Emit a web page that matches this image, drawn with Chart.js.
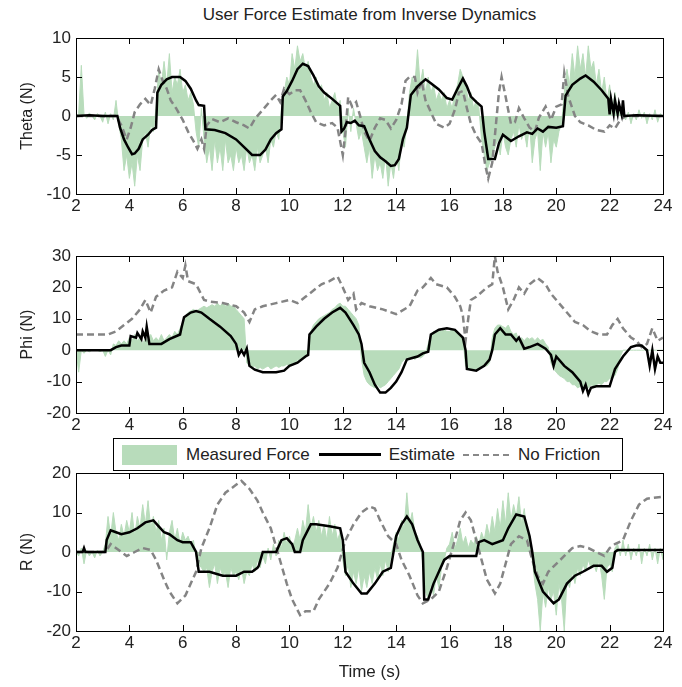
<!DOCTYPE html>
<html>
<head>
<meta charset="utf-8">
<script src="https://cdn.jsdelivr.net/npm/chart.js@4.4.1/dist/chart.umd.min.js"></script>
<style>
  body { margin: 0; background: #fff; width: 682px; height: 687px; position: relative; overflow: hidden; }
  canvas { position: absolute; left: 0; }
  #title { position: absolute; left: 76px; width: 587px; top: 5px; text-align: center;
           font: 17px 'Liberation Sans Narrow', 'Arial Narrow', 'Liberation Sans', sans-serif; color: #222; }
  #legend { position: absolute; left: 113px; top: 438px; width: 508px; height: 31px; border: 1px solid #000;
            background: #fff; z-index: 5; font: 17px 'Liberation Sans Narrow', 'Arial Narrow', 'Liberation Sans', sans-serif;
            color: #222; display: flex; align-items: center; }
  .sw { display: inline-block; }
</style>
</head>
<body>
<div id="title">User Force Estimate from Inverse Dynamics</div>
<canvas id="c1" width="682" height="220" style="top:0"></canvas>
<canvas id="c2" width="682" height="220" style="top:220px"></canvas>
<canvas id="c3" width="682" height="247" style="top:440px"></canvas>
<div id="legend">
  <span class="sw" style="margin-left:8px;width:55px;height:20px;background:#b8dcbb"></span>
  <span style="margin-left:9px">Measured Force</span>
  <span class="sw" style="margin-left:9px;width:62px;border-top:3px solid #000"></span>
  <span style="margin-left:8px">Estimate</span>
  <span class="sw" style="margin-left:8px;width:46px;border-top:2px dashed #888"></span>
  <span style="margin-left:9px">No Friction</span>
</div>
<script>
// x ticks (s)
const xTicks = [2, 4, 6, 8, 10, 12, 14, 16, 18, 20, 22, 24];

// measured force, sampled every 0.1 s from 2.0 to 24.0
const thetaMeas = [
  0, 0.3, 6.5, 0.2, -0.3, 0.4, 0, -0.5, 0.3, 0,
  -0.8, 0.5, -1, 0.3, -0.5, 2, -1, -3, -7, -5,
  -8, -6, -9, -5, -7, -3, -2, -4, -1, -2,
  1, 6, 4, 7, 4, 8, 3, 5, 4, 6,
  3, 4, 2, 3, 1.5, -2, -4, 1, -3, -6,
  -4, -7, -3, -6, -4, -7, -3, -6, -5, -7,
  -4, -6, -5, -7, -4, -6, -5, -7, -4, -6,
  -5, -4, -6, -3, -4, -2, -3, 1, 3, 5,
  4, 8, 6, 9, 7, 8, 6, 7, 5, 4,
  5, 3, 4, 2, 3, 1, 2, 3, 1, 2,
  -2, -4, 1, -2, 1, -1, -3, -2, -4, -6,
  -4, -8, -5, -7, -6, -8, -5, -9, -6, -8,
  -5, -7, -3, -4, -1, 3, 5, 4, 8.5, 4,
  6, 3, 5, 3, 4, 2, 3, 2, 3, 1,
  2, 1, 3, 4, 6, 5, 4, 2, 3, 1,
  2, 1, -3, -5, -7, -6, -5, -4, -3, -5,
  -2, -4, -5, -3, -2, -4, -1, -3, -2, -4,
  -1, -6, -3, -2, -7, -2, -4, -2, -6, -3,
  -4, -2, -1, 3, 6, 4, 8, 5, 9, 6,
  8, 5, 9, 6, 7, 4, 6, 3, 5, 2,
  4, 1, 3, 0.5, 1, 0, -0.5, 0.5, -1, 0.3,
  -0.5, 0.8, -0.3, 0.5, -1, 0.3, -0.5, 0.8, -0.8, 0.3, 0
];
const phiMeas = [
  0, -7, 0, -1, 0, -0.5, 0, 0, 0, -0.5,
  0, -2, 0, -1.5, 2, 1.5, 3, 2, 3, 2,
  4, 3, 5, 3, 4, 2, 4, 3, 5, 3,
  4, 3, 5, 3, 4, 5, 4, 6, 5, 7,
  9, 11, 12, 12.5, 13, 12.5, 13, 13.5, 14, 13.5,
  14, 14.5, 14, 15, 14, 15, 14, 15, 14, 14,
  13, 12, 11, 10, -4, -5, -5.5, -5, -6, -5.5,
  -6, -5.5, -5, -6, -5.5, -5, -5.5, -5, -5, -4.5,
  -5, -4, -4.5, -3, -3.5, -2.5, -2, 0, 6, 8,
  9, 10, 10.5, 11, 11.5, 12, 13, 13.5, 14.5, 15,
  14, 14, 13, 12, 11, 10, 8, -3, -8, -10,
  -11, -11.5, -12, -11, -12, -11.5, -11, -10, -9, -8,
  -7, -6, -4, -3, -2.5, -3, -2, -3, -2, -2.5,
  -2, -1, 2, 5, 6, 6, 6.5, 6, 6.5, 6,
  6, 6.5, 6, 5.5, 5, 4, -5, -6, -6, -6,
  -6, -5.5, -5.5, -5, -5, -4, 4, 7, 8, 8,
  7.5, 7, 8, 6, 5, 5.5, 3, 4, 3, 4,
  3.5, 4, 3, 4, 3, 3.5, 2, 1, -4, -6,
  -7, -8, -8.5, -9, -10, -10, -11, -11, -12, -11.5,
  -12, -11.5, -12, -11, -11.5, -11, -10.5, -11, -10, -10,
  -9, -9, -8, -6, -2, 0, 0, 0, 0, 0,
  0, 0, 0, 0, 0, 0, 0, 0, 0, 0, 0
];
const rMeas = [
  0, -1, 1, -3, 0.5, -1, 0, -1.5, 0.5, -1,
  0, 2, 9, 4, 10, 5, 3, 7, 4, 8,
  5, 10, 4, 9, 6, 12, 7, 13, 6, 9,
  5, 8, 3, 6, -2, 5, 8, 3, 6, 2,
  5, 3, 4, 2, 3, -1, -3, -4, -5, -4,
  -9, -5, -3, -8, -4, -6, -5, -9, -4, -6,
  -5, -7, -4, -8, -5, -6, -3, -5, -2, -4,
  -1, -3, 1, -2, 2, -1, 3, 1, 5, 2,
  4, 1, 3, 6, 3, 8, 5, 12, 6, 9,
  5, 8, 4, 7, 3, 9, 4, 7, 3, 5,
  -2, -6, -3, -9, -5, -8, -4, -10, -6, -9,
  -5, -8, -4, -7, -3, -6, -2, -5, -1, 2,
  5, 3, 8, 6, 15, 7, 10, 5, 4, 2,
  -3, -10, -12, -8, -11, -6, -9, -4, -2, 1,
  2, 5, 1, 3, 6, 2, 4, 1, 3, 2,
  4, 2, 5, 3, 7, 4, 9, 5, 11, 6,
  13, 7, 15, 8, 12, 9, 14, 7, 11, 5,
  3, -2, -8, -12, -20, -10, -14, -9, -12, -10,
  -16, -8, -12, -20, -7, -9, -5, -8, -4, -6,
  -3, -5, -2, -4, -3, -5, -2, -6, -12, -4,
  -3, -5, 1, 2, -1, 3, -1, 2, -2, 1,
  -1, 2, -3, 1, -1, 2, -2, 1, -3, 1, -2
];

// estimate (black) and no-friction (dashed) curves: time / value pairs
const thetaEstT = [2, 2.5, 3, 3.55, 3.65, 3.8, 3.95, 4.1, 4.2, 4.35, 4.5, 4.7, 4.85, 5.0, 5.05, 5.2, 5.4, 5.6, 5.9, 6.1, 6.3, 6.5, 6.6, 6.8, 6.85, 7.2, 7.6, 8.0, 8.3, 8.6, 8.9, 9.1, 9.3, 9.5, 9.7, 9.75, 9.9, 10.1, 10.3, 10.5, 10.7, 10.9, 11.1, 11.3, 11.6, 11.9, 11.95, 12.05, 12.15, 12.3, 12.45, 12.6, 12.8, 13.0, 13.2, 13.4, 13.6, 13.8, 13.95, 14.1, 14.25, 14.4, 14.55, 14.8, 15.1, 15.3, 15.6, 15.9, 16.1, 16.3, 16.5, 16.65, 16.8, 17.0, 17.2, 17.3, 17.45, 17.7, 17.85, 18.0, 18.3, 18.6, 18.9, 19.1, 19.3, 19.5, 19.7, 20.0, 20.25, 20.35, 20.6, 20.9, 21.1, 21.4, 21.7, 21.95, 22.0, 22.05, 22.15, 22.2, 22.3, 22.35, 22.45, 22.5, 22.55, 23, 24];
const thetaEst = [0, 0.1, 0, 0, -1.5, -3, -4, -4.9, -4.8, -4.2, -3, -2.4, -1.8, -1.5, 3, 4, 4.7, 5, 5, 4.5, 3.5, 2, 1.4, 1.3, -1.7, -1.8, -2.2, -3, -4, -5, -5, -4.3, -3, -2.2, -1.7, 2.5, 3.2, 4.5, 6, 6.7, 6.4, 5.2, 3.8, 3, 2.2, 1.3, -2, -1.6, -0.8, -0.9, -0.6, -1.2, -1.3, -3, -4.5, -5.3, -5.8, -6.4, -6.3, -5.5, -3, -1.5, 2.7, 3.8, 4.7, 4.2, 3.4, 2.3, 2.1, 3.5, 4.8, 3.8, 2.5, 1.8, 1.2, -2, -5.5, -5.5, -3.5, -2.4, -3.2, -2.6, -2.1, -2.3, -1.6, -2, -1.4, -1.5, -1.3, 2.6, 4, 4.8, 5.2, 4.4, 3.3, 2.2, 0.2, 2.2, 0.3, 2, 0.3, 1.6, 0.2, 2, 0, 0.1, 0];
const thetaNfT = [2, 3.5, 3.7, 3.9, 4.05, 4.2, 4.4, 4.6, 4.8, 4.95, 5.1, 5.25, 5.4, 5.55, 5.75, 6.0, 6.2, 6.4, 6.55, 6.7, 6.8, 6.9, 7.1, 7.4, 7.7, 8.0, 8.3, 8.5, 8.7, 9.0, 9.3, 9.5, 9.65, 9.8, 10.0, 10.2, 10.4, 10.6, 10.8, 11.0, 11.3, 11.6, 11.8, 12.0, 12.1, 12.2, 12.35, 12.5, 12.65, 12.8, 13.0, 13.2, 13.4, 13.6, 13.8, 14.0, 14.2, 14.35, 14.5, 14.7, 14.8, 14.95, 15.1, 15.3, 15.5, 15.8, 16.0, 16.2, 16.35, 16.5, 16.65, 16.8, 17.0, 17.2, 17.35, 17.45, 17.6, 17.7, 17.85, 17.95, 18.1, 18.3, 18.45, 18.6, 18.8, 19.0, 19.2, 19.35, 19.6, 19.8, 20.0, 20.2, 20.3, 20.45, 20.7, 20.9, 21.2, 21.5, 21.8, 22.0, 22.2, 22.4, 22.6, 24];
const thetaNf = [0, 0, -1.2, -3, -1.5, 0.5, 1.5, 2.2, 1.4, 3.5, 6, 4.5, 3.5, 2, 1, -0.5, -2, -3.2, -4.2, -3, -4.2, -1.2, -0.4, -0.8, -0.3, -0.8, -1.2, -1.6, -0.4, 0.8, 2, 2.7, 1.8, 3.5, 2.8, 3.3, 3.3, 2, 0.5, -0.8, -1.2, -0.9, -1.5, -5, -2, 2.4, 1.2, 1.8, 0, -2, -3.2, -1.5, -0.3, -0.5, -1.6, -0.5, 1.5, 4.5, 5, 5, 3, 4.5, 2, 0.5, -1, -1.5, -1, 0.8, 3, 3.2, 1, -1, -2.5, -3.5, -6.5, -8, -6, -2.5, 3, 5, 2.5, -1, -0.8, 1, -0.3, -1.5, -2, -0.2, 1.2, -0.5, 1.2, 1.5, 5.5, 2.5, 0, -0.8, -1.2, -1.8, -2, -1.2, -1.6, -0.5, 0, 0];

const phiEstT = [2, 3.3, 3.5, 3.7, 4.0, 4.05, 4.25, 4.3, 4.45, 4.5, 4.6, 4.65, 4.75, 5.2, 5.5, 5.9, 5.95, 6.05, 6.3, 6.5, 6.7, 7.0, 7.4, 7.8, 8.0, 8.1, 8.2, 8.3, 8.4, 8.5, 8.7, 9.0, 9.5, 9.8, 10.0, 10.3, 10.6, 10.7, 10.75, 11.0, 11.3, 11.6, 11.9, 12.1, 12.4, 12.6, 12.7, 12.8, 13.0, 13.2, 13.4, 13.6, 13.8, 14.0, 14.2, 14.4, 14.6, 14.8, 15.0, 15.2, 15.3, 15.6, 15.9, 16.2, 16.5, 16.6, 16.65, 17.0, 17.3, 17.5, 17.6, 17.7, 17.9, 18.1, 18.3, 18.5, 18.6, 18.8, 19.0, 19.3, 19.6, 19.8, 19.9, 20.0, 20.3, 20.6, 20.9, 21.0, 21.1, 21.2, 21.3, 21.5, 22.0, 22.2, 22.5, 22.8, 23.0, 23.2, 23.4, 23.5, 23.6, 23.7, 23.8, 23.9, 24.0];
const phiEst = [0, 0, 1, 1.5, 1.5, 4.5, 4, 5.5, 3.5, 6, 4, 7.5, 2, 2, 3.5, 5, 7, 10.5, 12, 12.5, 12, 10, 7.5, 4.5, 2, -1.5, 0, -1.5, 0.5, -5, -6.2, -7, -7, -6.5, -5, -4, -2, -1.5, 5, 7.5, 10, 12, 13.5, 12, 8, 5, 2, -4, -7, -11, -13.5, -13.5, -12, -10, -7, -3, -2.5, -2, -1, -0.5, 5, 6.5, 7, 6.5, 4, 0, -6, -6.5, -5, -3, 0, 5, 7, 5, 5, 3, 4, 0.5, 1, 2, 0.5, -1.5, -5, -2, -5, -7, -10, -13, -11, -14, -12, -11.5, -11.5, -6, -2, 1, 1.5, 1.5, 0, -5, 0, -6, -2, -4, -4];
const phiNfT = [2, 3.2, 3.5, 3.8, 4.1, 4.4, 4.6, 4.8, 5.0, 5.3, 5.6, 5.8, 6.0, 6.1, 6.2, 6.5, 6.8, 7.0, 7.5, 8.0, 8.3, 8.5, 8.7, 9.0, 9.5, 10.0, 10.3, 10.6, 10.9, 11.2, 11.5, 11.8, 12.0, 12.2, 12.4, 12.5, 12.7, 13.0, 13.5, 14.0, 14.5, 14.8, 15.0, 15.3, 15.5, 15.9, 16.2, 16.4, 16.5, 16.6, 16.7, 16.8, 17.0, 17.4, 17.6, 17.7, 17.8, 18.0, 18.2, 18.4, 18.6, 18.8, 19.0, 19.3, 19.6, 19.8, 20.1, 20.4, 20.7, 21.0, 21.3, 21.6, 21.9, 22.1, 22.3, 22.5, 22.8, 23.0, 23.2, 23.4, 23.6, 23.8, 24.0];
const phiNf = [5, 5, 6, 8, 10, 13, 16, 12, 17, 19, 20, 25, 23, 27, 22, 21, 16, 15.5, 15, 14, 12, 9, 13, 14, 15, 16, 15, 17, 19, 21, 22, 23.5, 20, 16, 18, 13, 15, 14, 13, 11.5, 14, 19, 20, 23, 21, 20, 17, 14, 11, 3, 10, 16, 17, 20, 21, 30, 25, 20, 13, 16, 20, 18, 21, 23, 21, 18, 15, 12, 9, 8, 6, 5, 5, 8, 10, 7, 4, 3, 1, 2, 7, 3, 4];

const rEstT = [2, 2.25, 2.3, 2.35, 3.1, 3.15, 3.3, 3.5, 3.7, 4.0, 4.3, 4.6, 4.9, 5.1, 5.3, 5.5, 5.8, 6.0, 6.3, 6.5, 6.6, 7.0, 7.5, 8.0, 8.3, 8.6, 8.8, 8.85, 9.0, 9.5, 9.7, 9.9, 10.1, 10.2, 10.4, 10.5, 10.8, 11.0, 11.5, 11.9, 12.0, 12.1, 12.4, 12.7, 12.9, 13.2, 13.5, 13.8, 13.9, 14.0, 14.2, 14.4, 14.6, 14.8, 15.0, 15.05, 15.2, 15.4, 15.6, 15.8, 16.0, 16.5, 17.0, 17.1, 17.3, 17.6, 18.0, 18.2, 18.5, 18.8, 19.0, 19.1, 19.2, 19.5, 19.9, 20.1, 20.4, 20.7, 21.0, 21.4, 21.7, 21.9, 22.1, 22.2, 22.3, 23.0, 24];
const rEst = [0, 0, 1, 0, 0, 3, 5.5, 5, 4.5, 5, 6, 7.5, 8, 6.5, 5, 4.5, 3, 2.5, 2.5, 0, -5, -5, -6, -6, -5, -5, -4, -3.5, 0, 0, 3, 3.5, 2, 0, 0, 3, 7, 7, 6.5, 6, 3, -5, -8, -10.5, -10.5, -8, -5, -4, 0, 4, 7, 9, 7, 3, 0, -12, -12, -8, -5, -2, -1, -1, -1, 2.5, 3, 2, 3, 6, 9.5, 9, 4, 0, -5, -10, -13, -12, -8, -6, -5, -3.5, -3.5, -5, -4, 0, 0.5, 0.5, 0.5];
const rNfT = [2, 3.1, 3.3, 3.6, 3.9, 4.2, 4.5, 4.8, 5.0, 5.3, 5.5, 5.8, 6.1, 6.5, 6.7, 7.0, 7.3, 7.6, 8.0, 8.2, 8.5, 8.8, 9.0, 9.3, 9.6, 9.9, 10.1, 10.4, 10.6, 10.9, 11.1, 11.5, 11.8, 12.1, 12.4, 12.7, 13.0, 13.2, 13.4, 13.7, 14.0, 14.2, 14.5, 14.8, 15.0, 15.3, 15.6, 15.9, 16.2, 16.4, 16.6, 16.8, 17.0, 17.2, 17.4, 17.7, 17.9, 18.1, 18.3, 18.6, 18.9, 19.1, 19.3, 19.5, 19.7, 20.0, 20.3, 20.6, 20.9, 21.2, 21.5, 21.8, 22.0, 22.2, 22.5, 22.8, 23.1, 23.4, 24];
const rNf = [0, 0, 2, 0.5, -1, 0, 1, 0.5, -2, -7, -10, -13, -11, -5, 1, 6, 12, 15, 17, 18, 16, 13, 10, 6, -1, -8, -12, -16, -15, -15, -12, -8, -4, 3, 7, 10, 11.5, 11, 8, 4, 2, -2, -6, -11, -13, -12, -10, -4, 3, 8, 10, 8, 3, -2, -7, -10.5, -8, -3, 2, 4, 3, -2, -6, -8, -5, -3, -1, 1, 1.5, 1, 0, -1, 1, 2, 3, 8, 12, 13.5, 14];

const FONT = "'Liberation Sans Narrow', 'Arial Narrow', 'Liberation Sans', sans-serif";
const GREEN = '#b8dcbb';

const measT = thetaMeas.map((_, i) => +(2 + i * 0.1).toFixed(1));
const pts = (t, v) => t.map((x, i) => ({ x: x, y: v[i] }));

// MATLAB-like box with inward ticks on all four sides
const boxTicks = {
  id: 'boxTicks',
  afterDraw(chart) {
    const { ctx, chartArea: a, scales: { x, y } } = chart;
    ctx.save();
    ctx.strokeStyle = '#000';
    ctx.lineWidth = 1;
    ctx.strokeRect(a.left + 0.5, a.top + 0.5, a.right - a.left, a.bottom - a.top);
    ctx.beginPath();
    x.ticks.forEach(t => {
      const p = Math.round(x.getPixelForValue(t.value)) + 0.5;
      ctx.moveTo(p, a.bottom); ctx.lineTo(p, a.bottom - 6);
      ctx.moveTo(p, a.top); ctx.lineTo(p, a.top + 6);
    });
    y.ticks.forEach(t => {
      const p = Math.round(y.getPixelForValue(t.value)) + 0.5;
      ctx.moveTo(a.left, p); ctx.lineTo(a.left + 6, p);
      ctx.moveTo(a.right, p); ctx.lineTo(a.right - 6, p);
    });
    ctx.stroke();
    ctx.restore();
  }
};

function panel(id, meas, estT, est, nfT, nf, yMin, yMax, yStep, yLabel, padTop, xHeight, xTitle) {
  new Chart(document.getElementById(id), {
    type: 'line',
    data: {
      datasets: [
        { label: 'Estimate', data: pts(estT, est), borderColor: '#000', borderWidth: 2.5, order: 0 },
        { label: 'No Friction', data: pts(nfT, nf), borderColor: '#848484', borderWidth: 2.5, borderDash: [7, 4], order: 1 },
        { label: 'Measured Force', data: pts(measT, meas), borderColor: GREEN, backgroundColor: GREEN, borderWidth: 1, fill: 'origin', order: 2 }
      ]
    },
    options: {
      responsive: false,
      animation: false,
      layout: { padding: { top: padTop, right: 19, left: 0, bottom: 0 } },
      elements: { point: { radius: 0 }, line: { tension: 0 } },
      plugins: { legend: { display: false }, tooltip: { enabled: false } },
      scales: {
        x: {
          type: 'linear', min: 2, max: 24,
          afterBuildTicks: s => { s.ticks = xTicks.map(v => ({ value: v })); },
          afterFit: s => { s.height = xHeight; },
          grid: { display: false, drawTicks: false },
          border: { display: false },
          ticks: { color: '#222', font: { family: FONT, size: 17 }, padding: 2 },
          title: { display: !!xTitle, text: xTitle || '', color: '#222', font: { family: FONT, size: 17 }, padding: { top: 18 } }
        },
        y: {
          min: yMin, max: yMax,
          ticks: { stepSize: yStep, color: '#222', font: { family: FONT, size: 17 }, padding: 5 },
          afterFit: s => { s.width = 76; },
          grid: { display: false, drawTicks: false },
          border: { display: false },
          title: { display: true, text: yLabel, color: '#222', font: { family: FONT, size: 16 }, padding: { top: 18, bottom: 0 } }
        }
      }
    },
    plugins: [boxTicks]
  });
}

panel('c1', thetaMeas, thetaEstT, thetaEst, thetaNfT, thetaNf, -10, 10, 5, 'Theta (N)', 38, 26, '');
panel('c2', phiMeas, phiEstT, phiEst, phiNfT, phiNf, -20, 30, 10, 'Phi (N)', 36, 27, '');
panel('c3', rMeas, rEstT, rEst, rNfT, rNf, -20, 20, 10, 'R (N)', 33, 56, 'Time (s)');
</script>
</body>
</html>
